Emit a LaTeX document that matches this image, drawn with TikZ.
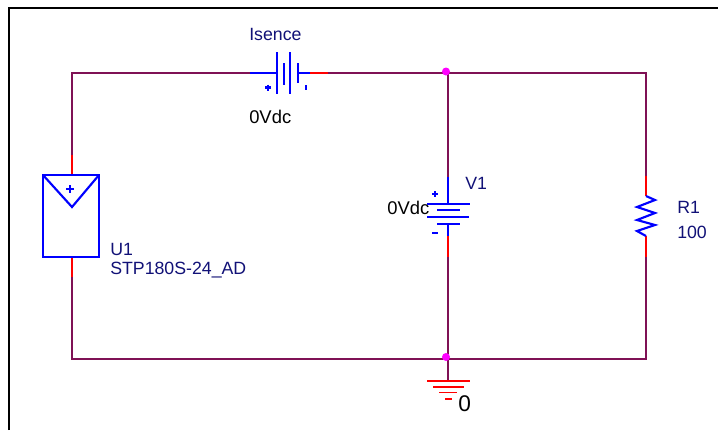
\documentclass[tikz,border=0pt]{standalone}
\usepackage{fontspec}
\setmainfont{Liberation Sans}
\definecolor{wirec}{HTML}{7F1155}
\definecolor{pinc}{HTML}{FF0000}
\definecolor{partc}{HTML}{0000FF}
\definecolor{labc}{HTML}{111177}
\definecolor{dotc}{HTML}{FF00FF}
\tikzset{
  wire/.style={draw=wirec,line width=1.6pt},
  pin/.style={draw=pinc,line width=1.6pt},
  part/.style={draw=partc,line width=1.6pt},
  gnd/.style={draw=pinc,line width=1.3pt},
  lab/.style={font=\fontsize{13.3}{15}\selectfont,text=labc,anchor=west,inner sep=0pt},
  val/.style={font=\fontsize{13.8}{15}\selectfont,text=black,anchor=west,inner sep=0pt},
  jct/.style={circle,fill=dotc,inner sep=0pt,minimum size=6pt},
}
\begin{document}
\begin{tikzpicture}[x=0.75pt,y=-0.75pt]
\useasboundingbox (0,0) rectangle (718,430);
\fill[white] (0,0) rectangle (718,430);
\draw[black,line width=1.5pt] (9,430) -- (9,8) -- (718,8);
% anchor coordinates
\coordinate (tl) at (72,73);
\coordinate (bl) at (72,359);
\coordinate (tr) at (646,73);
\coordinate (br) at (646,359);
\coordinate (j1) at (448,73);
\coordinate (j2) at (448,359);
\coordinate (uT) at (72,155);
\coordinate (uB) at (72,277);
\coordinate (uPT) at (72,175);
\coordinate (uPB) at (72,257);
\coordinate (iL) at (250,73);
\coordinate (iR) at (328,73);
\coordinate (iPR) at (310,73);
\coordinate (vT) at (448,177);
\coordinate (vB) at (448,257);
\coordinate (vPB) at (448,236);
\coordinate (rT) at (646,176);
\coordinate (rB) at (646,257);
\coordinate (rZT) at (646,196);
\coordinate (rZB) at (646,236);
\coordinate (gT) at (448,381);
% wires
\draw[wire] (uT) -- (tl) -- (iL);
\draw[wire] (iR) -- (tr) -- (rT);
\draw[wire] (rB) -- (br) -- (bl) -- (uB);
\draw[wire] (j1) -- (vT);
\draw[wire] (vB) -- (gT);
% pins
\draw[pin] (uT) -- (uPT);
\draw[pin] (uPB) -- (uB);
\draw[pin] (iPR) -- (iR);
\draw[pin] (vPB) -- (vB);
\draw[pin] (rT) -- (rZT);
\draw[pin] (rZB) -- (rB);
% U1
\draw[part] (43,175) rectangle (99,257);
\draw[part] (43,175) -- (72,207) -- (99,175);
\draw[draw=partc,line width=0.9pt] (66,189) -- (74,189) (70,185) -- (70,193);
% Isence
\draw[part] (iL) -- (277,73);
\draw[part] (277,52) -- (277,94);
\draw[part] (284,63) -- (284,85);
\draw[part] (290,52) -- (290,94);
\draw[part] (298,63) -- (298,83);
\draw[part] (298,73) -- (iPR);
\draw[part] (265,87.5) -- (271,87.5) (268,84.5) -- (268,90.5);
\draw[part] (306,85) -- (306,90);
% V1
\draw[part] (vT) -- (448,204);
\draw[part] (427,204) -- (470,204);
\draw[part] (437,210) -- (460,210);
\draw[part] (427,217) -- (469,217);
\draw[part] (437,224) -- (460,224);
\draw[part] (448,224) -- (vPB);
\draw[part] (432,194) -- (438,194) (435,191) -- (435,197);
\draw[part] (432,233) -- (438,233);
% R1
\draw[part] (rZT) -- (655,200) -- (637,207) -- (655,213) -- (637,220) -- (655,225) -- (637,231) -- (rZB);
% ground
\draw[gnd] (427,381) -- (470,381);
\draw[gnd] (433,387) -- (464,387);
\draw[gnd] (439,392.5) -- (457,392.5);
\draw[gnd] (445,399) -- (452,399);
% junctions
\node[jct] (dot1) at (446,71.5) {};
\node[jct] (dot2) at (446,357) {};
% labels
\node[lab] (tIsence) at (249,34) {Isence};
\node[val] (tIval) at (249,117) {0Vdc};
\node[lab] (tU1) at (110,249) {U1};
\node[lab] (tU1v) at (110,270) {STP180S-24\_AD};
\node[lab] (tV1) at (465,183) {V1};
\node[val] (tV1v) at (387,208) {0Vdc};
\node[lab] (tR1) at (677,207) {R1};
\node[lab] (tR1v) at (677,232) {100};
\node[val,font=\fontsize{17}{19}\selectfont] (tG) at (458,404) {0};
\end{tikzpicture}
\end{document}
